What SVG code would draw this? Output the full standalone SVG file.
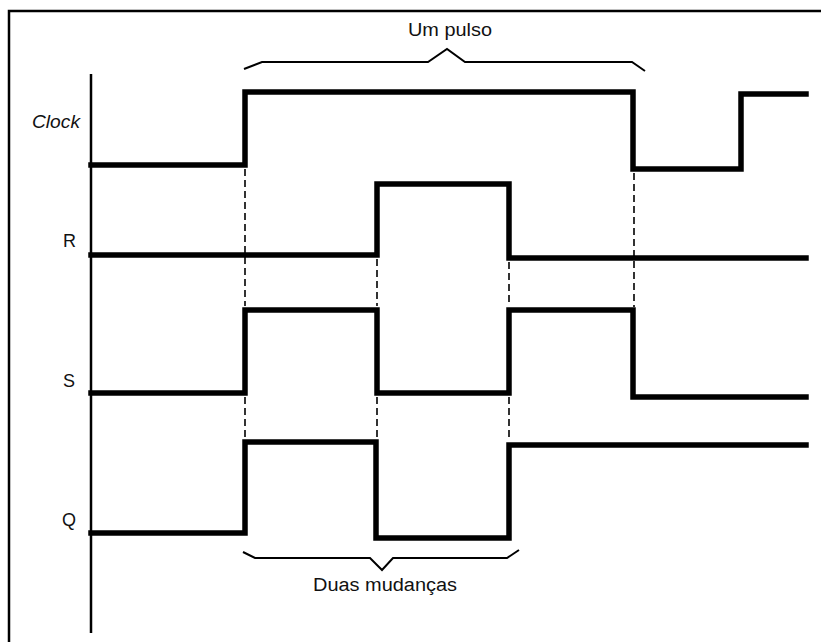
<svg xmlns="http://www.w3.org/2000/svg" width="821" height="642" viewBox="0 0 821 642">
<style>
.frame{fill:none;stroke:#000;stroke-width:2.5}
.axis{fill:none;stroke:#000;stroke-width:2.5}
.sig{fill:none;stroke:#000;stroke-width:5.5;stroke-linejoin:miter;stroke-linecap:square}
.dash{fill:none;stroke:#000;stroke-width:1.6;stroke-dasharray:7 4}
.brace{fill:none;stroke:#000;stroke-width:2;stroke-linejoin:miter}
.lbl{font-family:"Liberation Sans",Arial,sans-serif;font-size:18px;fill:#111}
</style>
<rect width="821" height="642" fill="#fff"/>
<path class="frame" d="M9,642 V11 H821"/>
<line class="axis" x1="91" y1="74" x2="91" y2="633"/>
<g id="labels">
<text class="lbl" x="32" y="128" font-style="italic" textLength="48" lengthAdjust="spacingAndGlyphs">Clock</text>
<text class="lbl" x="63" y="247">R</text>
<text class="lbl" x="63" y="387">S</text>
<text class="lbl" x="62" y="526">Q</text>
</g>
<g id="clock"><path class="sig" d="M91,165 H245 V92 H633 V169 H741 V94 H806"/></g>
<g id="R"><path class="sig" d="M91,255 H377 V184 H509 V258 H806"/></g>
<g id="S"><path class="sig" d="M91,393 H245 V310 H377 V393 H509 V310 H633 V397 H806"/></g>
<g id="Q"><path class="sig" d="M91,533 H245 V442 H376 V538 H509 V445 H806"/></g>
<g id="connectors">
<line class="dash" x1="245" y1="169" x2="245" y2="306"/>
<line class="dash" x1="245" y1="397" x2="245" y2="439"/>
<line class="dash" x1="377" y1="259" x2="377" y2="306"/>
<line class="dash" x1="377" y1="397" x2="377" y2="439"/>
<line class="dash" x1="509" y1="262" x2="509" y2="306"/>
<line class="dash" x1="509" y1="397" x2="509" y2="441"/>
<line class="dash" x1="634" y1="173" x2="634" y2="307"/>
</g>
<g id="brace-pulso">
<path class="brace" d="M244,69 L262,62 H428 L447,49 L465,62 H632 L645,71"/>
<text class="lbl" x="450" y="36" text-anchor="middle" textLength="84" lengthAdjust="spacingAndGlyphs">Um pulso</text>
</g>
<g id="brace-mudancas">
<path class="brace" d="M243,552 L255,558 H370 L382,570 L393,558 H507 L519,550"/>
<text class="lbl" x="385" y="591" text-anchor="middle" font-size="19" textLength="144" lengthAdjust="spacingAndGlyphs">Duas mudanças</text>
</g>
</svg>
